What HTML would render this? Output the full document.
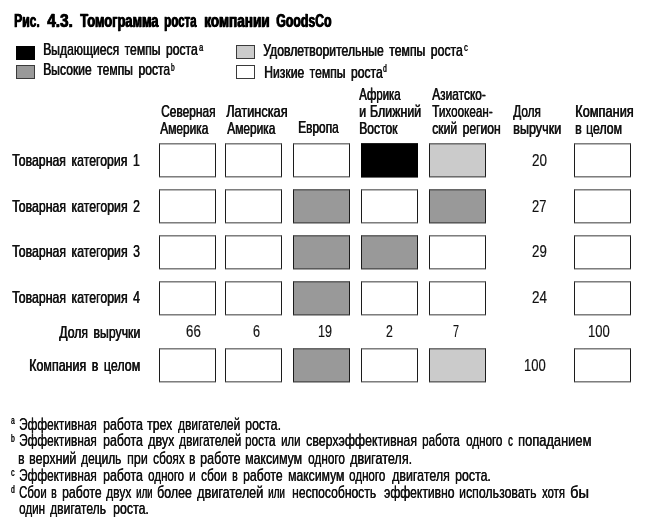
<!DOCTYPE html>
<html lang="ru">
<head>
<meta charset="utf-8">
<title>Рис. 4.3. Томограмма роста компании GoodsCo</title>
<style>
html,body{margin:0;padding:0;background:#fff;}
body{width:645px;height:531px;position:relative;overflow:hidden;font-family:"Liberation Sans",sans-serif;color:#111;}
.b{position:absolute;box-sizing:border-box;border:1px solid #3a3a3a;}
.grid{position:absolute;left:0;top:0;transform:translateY(0.35px);}
.legend{position:absolute;left:0;top:0;}
.t{position:absolute;white-space:nowrap;line-height:1;transform-origin:0 0;display:block;}
.l{text-shadow:0.6px 0 0 #111;-webkit-text-stroke:0.2px #111;}
.h{font-weight:bold;text-shadow:0.9px 0 0 #000;-webkit-text-stroke:0.5px #000;color:#000;}
.f{text-shadow:0.4px 0 0 #111;-webkit-text-stroke:0.1px #111;}
.d{-webkit-text-stroke:0.2px #111;}
.s{text-shadow:0.3px 0 0 #111;-webkit-text-stroke:0.2px #111;}
</style>
</head>
<body>
<div class="legend">
<div class="b" style="left:16px;top:46px;width:19px;height:14px;background:#000000;border-color:#000"></div>
<div class="b" style="left:16px;top:65px;width:19px;height:14px;background:#999999;border-color:#3a3a3a"></div>
<div class="b" style="left:236px;top:45px;width:19px;height:14px;background:#cbcbcb;border-color:#3a3a3a"></div>
<div class="b" style="left:236px;top:65px;width:19px;height:14px;background:#ffffff;border-color:#3a3a3a"></div>
</div>
<div class="grid">
<div class="b" style="left:159px;top:143px;width:57px;height:34px;background:#ffffff;border-color:#3a3a3a #1c1c1c"></div>
<div class="b" style="left:225px;top:143px;width:57px;height:34px;background:#ffffff;border-color:#3a3a3a #1c1c1c"></div>
<div class="b" style="left:293px;top:143px;width:57px;height:34px;background:#ffffff;border-color:#3a3a3a #1c1c1c"></div>
<div class="b" style="left:361px;top:143px;width:57px;height:34px;background:#000000;border-color:#000"></div>
<div class="b" style="left:429px;top:143px;width:57px;height:34px;background:#cbcbcb;border-color:#3a3a3a #1c1c1c"></div>
<div class="b" style="left:574px;top:143px;width:57px;height:34px;background:#ffffff;border-color:#3a3a3a #1c1c1c"></div>
<div class="b" style="left:159px;top:189px;width:57px;height:34px;background:#ffffff;border-color:#3a3a3a #1c1c1c"></div>
<div class="b" style="left:225px;top:189px;width:57px;height:34px;background:#ffffff;border-color:#3a3a3a #1c1c1c"></div>
<div class="b" style="left:293px;top:189px;width:57px;height:34px;background:#999999;border-color:#3a3a3a #1c1c1c"></div>
<div class="b" style="left:361px;top:189px;width:57px;height:34px;background:#ffffff;border-color:#3a3a3a #1c1c1c"></div>
<div class="b" style="left:429px;top:189px;width:57px;height:34px;background:#999999;border-color:#3a3a3a #1c1c1c"></div>
<div class="b" style="left:574px;top:189px;width:57px;height:34px;background:#ffffff;border-color:#3a3a3a #1c1c1c"></div>
<div class="b" style="left:159px;top:235px;width:57px;height:34px;background:#ffffff;border-color:#3a3a3a #1c1c1c"></div>
<div class="b" style="left:225px;top:235px;width:57px;height:34px;background:#ffffff;border-color:#3a3a3a #1c1c1c"></div>
<div class="b" style="left:293px;top:235px;width:57px;height:34px;background:#999999;border-color:#3a3a3a #1c1c1c"></div>
<div class="b" style="left:361px;top:235px;width:57px;height:34px;background:#999999;border-color:#3a3a3a #1c1c1c"></div>
<div class="b" style="left:429px;top:235px;width:57px;height:34px;background:#ffffff;border-color:#3a3a3a #1c1c1c"></div>
<div class="b" style="left:574px;top:235px;width:57px;height:34px;background:#ffffff;border-color:#3a3a3a #1c1c1c"></div>
<div class="b" style="left:159px;top:281px;width:57px;height:34px;background:#ffffff;border-color:#3a3a3a #1c1c1c"></div>
<div class="b" style="left:225px;top:281px;width:57px;height:34px;background:#ffffff;border-color:#3a3a3a #1c1c1c"></div>
<div class="b" style="left:293px;top:281px;width:57px;height:34px;background:#999999;border-color:#3a3a3a #1c1c1c"></div>
<div class="b" style="left:361px;top:281px;width:57px;height:34px;background:#ffffff;border-color:#3a3a3a #1c1c1c"></div>
<div class="b" style="left:429px;top:281px;width:57px;height:34px;background:#ffffff;border-color:#3a3a3a #1c1c1c"></div>
<div class="b" style="left:574px;top:281px;width:57px;height:34px;background:#ffffff;border-color:#3a3a3a #1c1c1c"></div>
<div class="b" style="left:159px;top:348px;width:57px;height:34px;background:#ffffff;border-color:#3a3a3a #1c1c1c"></div>
<div class="b" style="left:225px;top:348px;width:57px;height:34px;background:#ffffff;border-color:#3a3a3a #1c1c1c"></div>
<div class="b" style="left:293px;top:348px;width:57px;height:34px;background:#999999;border-color:#3a3a3a #1c1c1c"></div>
<div class="b" style="left:361px;top:348px;width:57px;height:34px;background:#ffffff;border-color:#3a3a3a #1c1c1c"></div>
<div class="b" style="left:429px;top:348px;width:57px;height:34px;background:#cbcbcb;border-color:#3a3a3a #1c1c1c"></div>
<div class="b" style="left:574px;top:348px;width:57px;height:34px;background:#ffffff;border-color:#3a3a3a #1c1c1c"></div>
</div>
<span class="t h" style="left:14.01px;top:13px;font-size:17.5px;transform:scaleX(0.6882)">Рис.</span>
<span class="t h" style="left:47.30px;top:13px;font-size:17.5px;transform:scaleX(0.8755)">4.3.</span>
<span class="t h" style="left:79.50px;top:13px;font-size:17.5px;transform:scaleX(0.7339)">Томограмма</span>
<span class="t h" style="left:163.94px;top:13px;font-size:17.5px;transform:scaleX(0.6584)">роста</span>
<span class="t h" style="left:204.22px;top:13px;font-size:17.5px;transform:scaleX(0.7752)">компании</span>
<span class="t h" style="left:276.30px;top:13px;font-size:17.5px;transform:scaleX(0.7034)">GoodsCo</span>
<span class="t l" style="left:43.29px;top:41px;font-size:17px;word-spacing:2.89px;transform:scaleX(0.7148)">Выдающиеся темпы роста</span>
<span class="t l" style="left:43.29px;top:61px;font-size:17px;word-spacing:2.89px;transform:scaleX(0.7133)">Высокие темпы роста</span>
<span class="t l" style="left:263.30px;top:42px;font-size:17px;word-spacing:2.89px;transform:scaleX(0.7193)">Удовлетворительные темпы роста</span>
<span class="t l" style="left:263.79px;top:64px;font-size:17px;word-spacing:2.89px;transform:scaleX(0.7149)">Низкие темпы роста</span>
<span class="t l" style="left:160.90px;top:103px;font-size:17px;transform:scaleX(0.7009)">Северная</span>
<span class="t l" style="left:160.40px;top:120px;font-size:17px;transform:scaleX(0.7019)">Америка</span>
<span class="t l" style="left:226.00px;top:103px;font-size:17px;transform:scaleX(0.7493)">Латинская</span>
<span class="t l" style="left:227.30px;top:120px;font-size:17px;transform:scaleX(0.7019)">Америка</span>
<span class="t l" style="left:298.40px;top:119px;font-size:17px;transform:scaleX(0.6993)">Европа</span>
<span class="t l" style="left:359.30px;top:86px;font-size:17px;transform:scaleX(0.6712)">Африка</span>
<span class="t l" style="left:359.07px;top:103px;font-size:17px;word-spacing:0.68px;transform:scaleX(0.7290)">и Ближний</span>
<span class="t l" style="left:359.09px;top:120px;font-size:17px;transform:scaleX(0.7142)">Восток</span>
<span class="t l" style="left:431.90px;top:86px;font-size:17px;transform:scaleX(0.7010)">Азиатско-</span>
<span class="t l" style="left:432.00px;top:103px;font-size:17px;transform:scaleX(0.6886)">Тихоокеан-</span>
<span class="t l" style="left:432.40px;top:120px;font-size:17px;word-spacing:2.89px;transform:scaleX(0.7144)">ский регион</span>
<span class="t l" style="left:513.20px;top:103px;font-size:17px;transform:scaleX(0.6951)">Доля</span>
<span class="t l" style="left:513.36px;top:120px;font-size:17px;transform:scaleX(0.7408)">выручки</span>
<span class="t l" style="left:574.75px;top:103px;font-size:17px;transform:scaleX(0.7521)">Компания</span>
<span class="t l" style="left:574.78px;top:120px;font-size:17px;word-spacing:1.36px;transform:scaleX(0.7225)">в целом</span>
<span class="t l" style="left:12.10px;top:152px;font-size:17px;word-spacing:2.89px;transform:scaleX(0.7231)">Товарная категория 1</span>
<span class="t l" style="left:12.10px;top:198px;font-size:17px;word-spacing:2.89px;transform:scaleX(0.7242)">Товарная категория 2</span>
<span class="t l" style="left:12.10px;top:243px;font-size:17px;word-spacing:2.89px;transform:scaleX(0.7242)">Товарная категория 3</span>
<span class="t l" style="left:12.10px;top:289px;font-size:17px;word-spacing:2.89px;transform:scaleX(0.7242)">Товарная категория 4</span>
<span class="t l" style="left:59.30px;top:324px;font-size:17px;word-spacing:2.89px;transform:scaleX(0.7216)">Доля выручки</span>
<span class="t l" style="left:29.47px;top:357px;font-size:17px;word-spacing:2.89px;transform:scaleX(0.7317)">Компания в целом</span>
<span class="t d" style="left:531.60px;top:152px;font-size:17px;transform:scaleX(0.7911)">20</span>
<span class="t d" style="left:531.60px;top:198px;font-size:17px;transform:scaleX(0.7586)">27</span>
<span class="t d" style="left:531.60px;top:243px;font-size:17px;transform:scaleX(0.7803)">29</span>
<span class="t d" style="left:531.60px;top:289px;font-size:17px;transform:scaleX(0.7911)">24</span>
<span class="t d" style="left:186.10px;top:323px;font-size:17px;transform:scaleX(0.7803)">66</span>
<span class="t d" style="left:252.60px;top:323px;font-size:17px;transform:scaleX(0.7444)">6</span>
<span class="t d" style="left:317.86px;top:323px;font-size:17px;transform:scaleX(0.7391)">19</span>
<span class="t d" style="left:386.10px;top:323px;font-size:17px;transform:scaleX(0.7222)">2</span>
<span class="t d" style="left:453.10px;top:323px;font-size:17px;transform:scaleX(0.6333)">7</span>
<span class="t d" style="left:587.73px;top:323px;font-size:17px;transform:scaleX(0.7655)">100</span>
<span class="t d" style="left:523.93px;top:357px;font-size:17px;transform:scaleX(0.7655)">100</span>
<span class="t f" style="left:18.50px;top:416px;font-size:17px;transform:scaleX(0.6955)">Эффективная</span>
<span class="t f" style="left:102.57px;top:416px;font-size:17px;transform:scaleX(0.7253)">работа</span>
<span class="t f" style="left:147.30px;top:416px;font-size:17px;transform:scaleX(0.7191)">трех</span>
<span class="t f" style="left:178.30px;top:416px;font-size:17px;transform:scaleX(0.6994)">двигателей</span>
<span class="t f" style="left:244.67px;top:416px;font-size:17px;transform:scaleX(0.7291)">роста.</span>
<span class="t f" style="left:18.50px;top:432px;font-size:17px;transform:scaleX(0.6955)">Эффективная</span>
<span class="t f" style="left:102.57px;top:432px;font-size:17px;transform:scaleX(0.7253)">работа</span>
<span class="t f" style="left:148.30px;top:432px;font-size:17px;transform:scaleX(0.7401)">двух</span>
<span class="t f" style="left:179.00px;top:432px;font-size:17px;transform:scaleX(0.6994)">двигателей</span>
<span class="t f" style="left:245.12px;top:432px;font-size:17px;transform:scaleX(0.6818)">роста</span>
<span class="t f" style="left:281.03px;top:432px;font-size:17px;transform:scaleX(0.6675)">или</span>
<span class="t f" style="left:306.00px;top:432px;font-size:17px;transform:scaleX(0.7262)">сверхэффективная</span>
<span class="t f" style="left:422.01px;top:432px;font-size:17px;transform:scaleX(0.6866)">работа</span>
<span class="t f" style="left:465.70px;top:432px;font-size:17px;transform:scaleX(0.6835)">одного</span>
<span class="t f" style="left:507.70px;top:432px;font-size:17px;transform:scaleX(0.5556)">с</span>
<span class="t f" style="left:518.24px;top:432px;font-size:17px;transform:scaleX(0.7576)">попаданием</span>
<span class="t f" style="left:17.99px;top:450px;font-size:17px;transform:scaleX(0.7125)">в</span>
<span class="t f" style="left:29.07px;top:450px;font-size:17px;transform:scaleX(0.7340)">верхний</span>
<span class="t f" style="left:81.30px;top:450px;font-size:17px;transform:scaleX(0.7023)">дециль</span>
<span class="t f" style="left:126.57px;top:450px;font-size:17px;transform:scaleX(0.7314)">при</span>
<span class="t f" style="left:152.50px;top:450px;font-size:17px;transform:scaleX(0.6972)">сбоях</span>
<span class="t f" style="left:189.21px;top:450px;font-size:17px;transform:scaleX(0.6875)">в</span>
<span class="t f" style="left:200.26px;top:450px;font-size:17px;transform:scaleX(0.7389)">работе</span>
<span class="t f" style="left:245.07px;top:450px;font-size:17px;transform:scaleX(0.7251)">максимум</span>
<span class="t f" style="left:307.80px;top:450px;font-size:17px;transform:scaleX(0.6930)">одного</span>
<span class="t f" style="left:349.80px;top:450px;font-size:17px;transform:scaleX(0.7401)">двигателя.</span>
<span class="t f" style="left:18.50px;top:467px;font-size:17px;transform:scaleX(0.6955)">Эффективная</span>
<span class="t f" style="left:102.57px;top:467px;font-size:17px;transform:scaleX(0.7253)">работа</span>
<span class="t f" style="left:148.30px;top:467px;font-size:17px;transform:scaleX(0.6778)">одного</span>
<span class="t f" style="left:189.31px;top:467px;font-size:17px;transform:scaleX(0.6875)">и</span>
<span class="t f" style="left:201.30px;top:467px;font-size:17px;transform:scaleX(0.6923)">сбои</span>
<span class="t f" style="left:231.68px;top:467px;font-size:17px;transform:scaleX(0.6250)">в</span>
<span class="t f" style="left:242.58px;top:467px;font-size:17px;transform:scaleX(0.7201)">работе</span>
<span class="t f" style="left:287.59px;top:467px;font-size:17px;transform:scaleX(0.7147)">максимум</span>
<span class="t f" style="left:349.20px;top:467px;font-size:17px;transform:scaleX(0.6797)">одного</span>
<span class="t f" style="left:391.70px;top:467px;font-size:17px;transform:scaleX(0.7313)">двигателя</span>
<span class="t f" style="left:455.27px;top:467px;font-size:17px;transform:scaleX(0.7269)">роста.</span>
<span class="t f" style="left:18.50px;top:484px;font-size:17px;transform:scaleX(0.6721)">Сбои</span>
<span class="t f" style="left:51.08px;top:484px;font-size:17px;transform:scaleX(0.6250)">в</span>
<span class="t f" style="left:61.58px;top:484px;font-size:17px;transform:scaleX(0.7201)">работе</span>
<span class="t f" style="left:106.00px;top:484px;font-size:17px;transform:scaleX(0.7124)">двух</span>
<span class="t f" style="left:136.13px;top:484px;font-size:17px;transform:scaleX(0.5690)">или</span>
<span class="t f" style="left:156.57px;top:484px;font-size:17px;transform:scaleX(0.7296)">более</span>
<span class="t f" style="left:196.50px;top:484px;font-size:17px;transform:scaleX(0.7459)">двигателей</span>
<span class="t f" style="left:267.72px;top:484px;font-size:17px;transform:scaleX(0.5836)">или</span>
<span class="t f" style="left:291.59px;top:484px;font-size:17px;transform:scaleX(0.7127)">неспособность</span>
<span class="t f" style="left:384.00px;top:484px;font-size:17px;transform:scaleX(0.7111)">эффективно</span>
<span class="t f" style="left:459.28px;top:484px;font-size:17px;transform:scaleX(0.7248)">использовать</span>
<span class="t f" style="left:542.30px;top:484px;font-size:17px;transform:scaleX(0.6642)">хотя</span>
<span class="t f" style="left:569.84px;top:484px;font-size:17px;transform:scaleX(0.8584)">бы</span>
<span class="t f" style="left:18.60px;top:500px;font-size:17px;transform:scaleX(0.6854)">один</span>
<span class="t f" style="left:50.00px;top:500px;font-size:17px;transform:scaleX(0.7110)">двигатель</span>
<span class="t f" style="left:112.57px;top:500px;font-size:17px;transform:scaleX(0.7269)">роста.</span>
<span class="t s" style="left:198.90px;top:42px;font-size:10.5px;transform:scaleX(0.7000)">a</span>
<span class="t s" style="left:171.40px;top:62px;font-size:10.5px;transform:scaleX(0.6000)">b</span>
<span class="t s" style="left:464.10px;top:42px;font-size:10.5px;transform:scaleX(0.7000)">c</span>
<span class="t s" style="left:383.40px;top:63px;font-size:10.5px;transform:scaleX(0.6167)">d</span>
<span class="t s" style="left:10.70px;top:415px;font-size:10.5px;transform:scaleX(0.6167)">a</span>
<span class="t s" style="left:10.70px;top:433px;font-size:10.5px;transform:scaleX(0.6167)">b</span>
<span class="t s" style="left:10.70px;top:467px;font-size:10.5px;transform:scaleX(0.6600)">c</span>
<span class="t s" style="left:10.70px;top:484px;font-size:10.5px;transform:scaleX(0.6167)">d</span>
</body>
</html>
